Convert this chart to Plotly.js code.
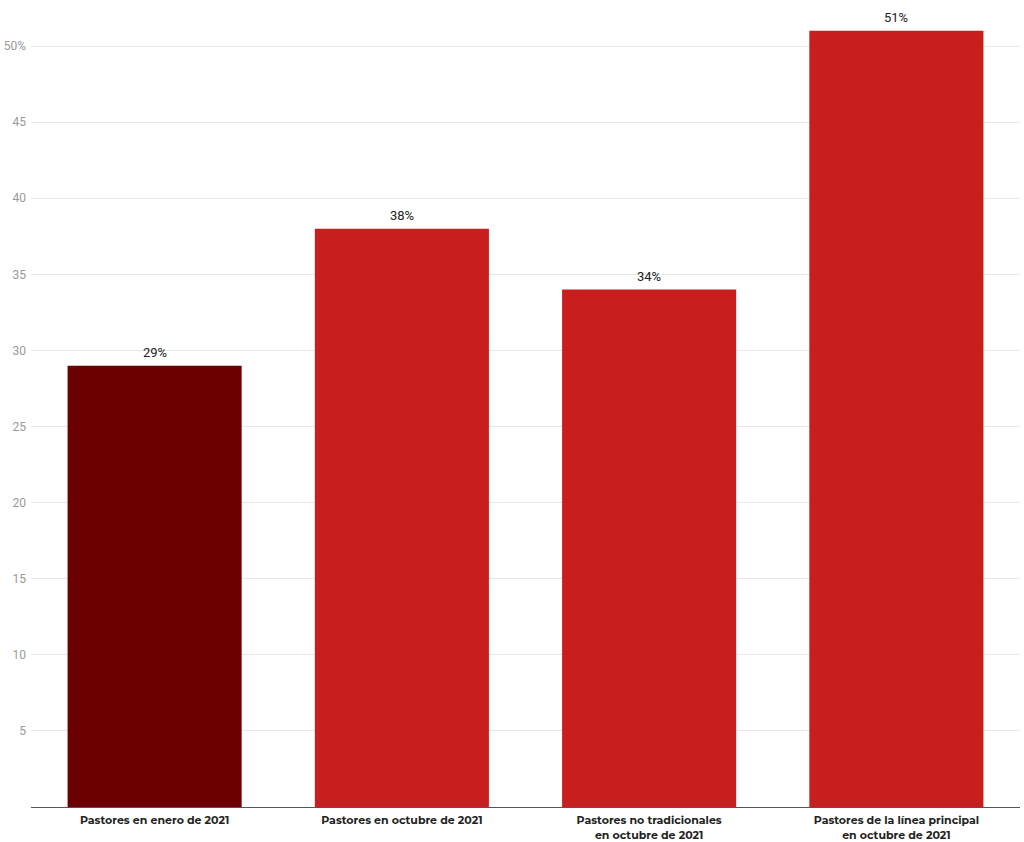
<!DOCTYPE html>
<html><head><meta charset="utf-8">
<script src="https://cdn.plot.ly/plotly-3.0.1.min.js"></script>
<style>body{margin:0;background:#fff}#c{width:1024px;height:842px}</style>
</head><body><div id="c"></div>
<script>
const categories = ["Pastores en enero de 2021","Pastores en octubre de 2021","Pastores no tradicionales<br>en octubre de 2021","Pastores de la línea principal<br>en octubre de 2021"];
const values = [29, 38, 34, 51];
const labels = ["29%","38%","34%","51%"];
const colors = ["#6b0000","#c91e1e","#c91e1e","#c91e1e"];
const tickVals = [5,10,15,20,25,30,35,40,45,50];
const tickText = ["5","10","15","20","25","30","35","40","45","50%"];

const annotations = categories.map((c, i) => ({
  x: c, y: values[i], text: labels[i], showarrow: false,
  yanchor: "bottom", yshift: 4,
  font: {family: "Roboto", size: 13, color: "#222"}
}));

Plotly.newPlot("c", [{
  type: "bar", x: categories, y: values,
  marker: {color: colors}, hoverinfo: "none"
}], {
  width: 1024, height: 842,
  margin: {l: 31, r: 4, t: 8, b: 35},
  paper_bgcolor: "#fff", plot_bgcolor: "#fff",
  bargap: 0.296,
  showlegend: false,
  annotations: annotations,
  xaxis: {tickfont: {family: "Montserrat, 'Open Sans', sans-serif", size: 11, color: "#222", weight: "bold"},
          showline: true, linecolor: "#555", linewidth: 1, ticks: "", automargin: false,
          ticklabelstandoff: 3, fixedrange: true},
  yaxis: {range: [0, 52.5], tickvals: tickVals, ticktext: tickText,
          tickfont: {family: "Roboto", size: 12, color: "#999"},
          showgrid: true, gridcolor: "#e8e8e8", gridwidth: 1, zeroline: false,
          ticks: "", automargin: false, ticklabelstandoff: 4, fixedrange: true}
}, {displayModeBar: false, staticPlot: true});
</script></body></html>
